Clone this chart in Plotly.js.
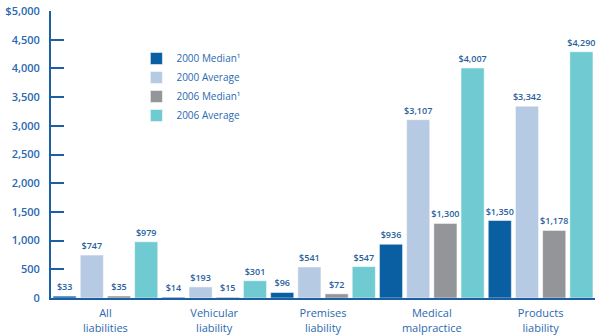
<!DOCTYPE html>
<html><head><meta charset="utf-8">
<script src="https://cdn.plot.ly/plotly-3.0.1.min.js"></script>
<style>body{margin:0;background:#fff}#c{width:600px;height:336px}</style>
</head><body><div id="c"></div>
<script>
const categories = ["All<br>liabilities","Vehicular<br>liability","Premises<br>liability","Medical<br>malpractice","Products<br>liability"];
const median2000 = [33, 14, 96, 936, 1350];
const average2000 = [747, 193, 541, 3107, 3342];
const median2006 = [35, 15, 72, 1300, 1178];
const average2006 = [979, 301, 547, 4007, 4290];
const seriesNames = ["2000 Median¹","2000 Average","2006 Median¹","2006 Average"];
const colors = ["#0a5fa3","#b7cae3","#939598","#6fcad2"];
const tickVals = [0,500,1000,1500,2000,2500,3000,3500,4000,4500,5000];
const tickText = ["0","500","1,000","1,500","2,000","2,500","3,000","3,500","4,000","4,500","$5,000"];

const FONT = "Open Sans, sans-serif";
const BLUE = "#2a69b0";
const series = [median2000, average2000, median2006, average2006];
const traces = series.map((vals,i)=>({
  type:'bar', x:categories, y:vals, name:seriesNames[i],
  marker:{color:colors[i], line:{color:'rgba(255,255,255,0.5)', width:1}},
  text: vals.map(v=>'$'+v.toLocaleString('en-US')),
  textposition:'outside', cliponaxis:false, constraintext:'none',
  textfont:{family:FONT, size:9, color:'#2a5f9e', weight:600},
  hoverinfo:'none'
}));
const layout = {
  width:600, height:336,
  margin:{l:51, r:5, t:11, b:38},
  paper_bgcolor:'#fff', plot_bgcolor:'#fff',
  barmode:'group', bargap:0, bargroupgap:0.15,
  showlegend:true,
  legend:{x:0.157, y:0.885, xanchor:'left', yanchor:'top', bgcolor:'rgba(0,0,0,0)',
    font:{family:FONT, size:10, color:BLUE}, itemwidth:30, tracegroupgap:0},
  xaxis:{showgrid:false, zeroline:false, showline:true, linecolor:'#1d5fa5', linewidth:2,
    ticks:'', tickfont:{family:FONT, size:11, color:BLUE}, range:[-0.5,4.5], fixedrange:true,
    ticklabelstandoff:4},
  yaxis:{range:[0,5000], tickvals:tickVals, ticktext:tickText, showgrid:false, zeroline:false,
    showline:true, linecolor:'#1d5fa5', linewidth:2, ticks:'inside', ticklen:13, tickwidth:2,
    tickcolor:'#1d5fa5', tickfont:{family:FONT, size:11, color:BLUE, weight:600}, ticklabelstandoff:7}
};
Plotly.newPlot('c', traces, layout, {staticPlot:true, displayModeBar:false});
</script></body></html>
